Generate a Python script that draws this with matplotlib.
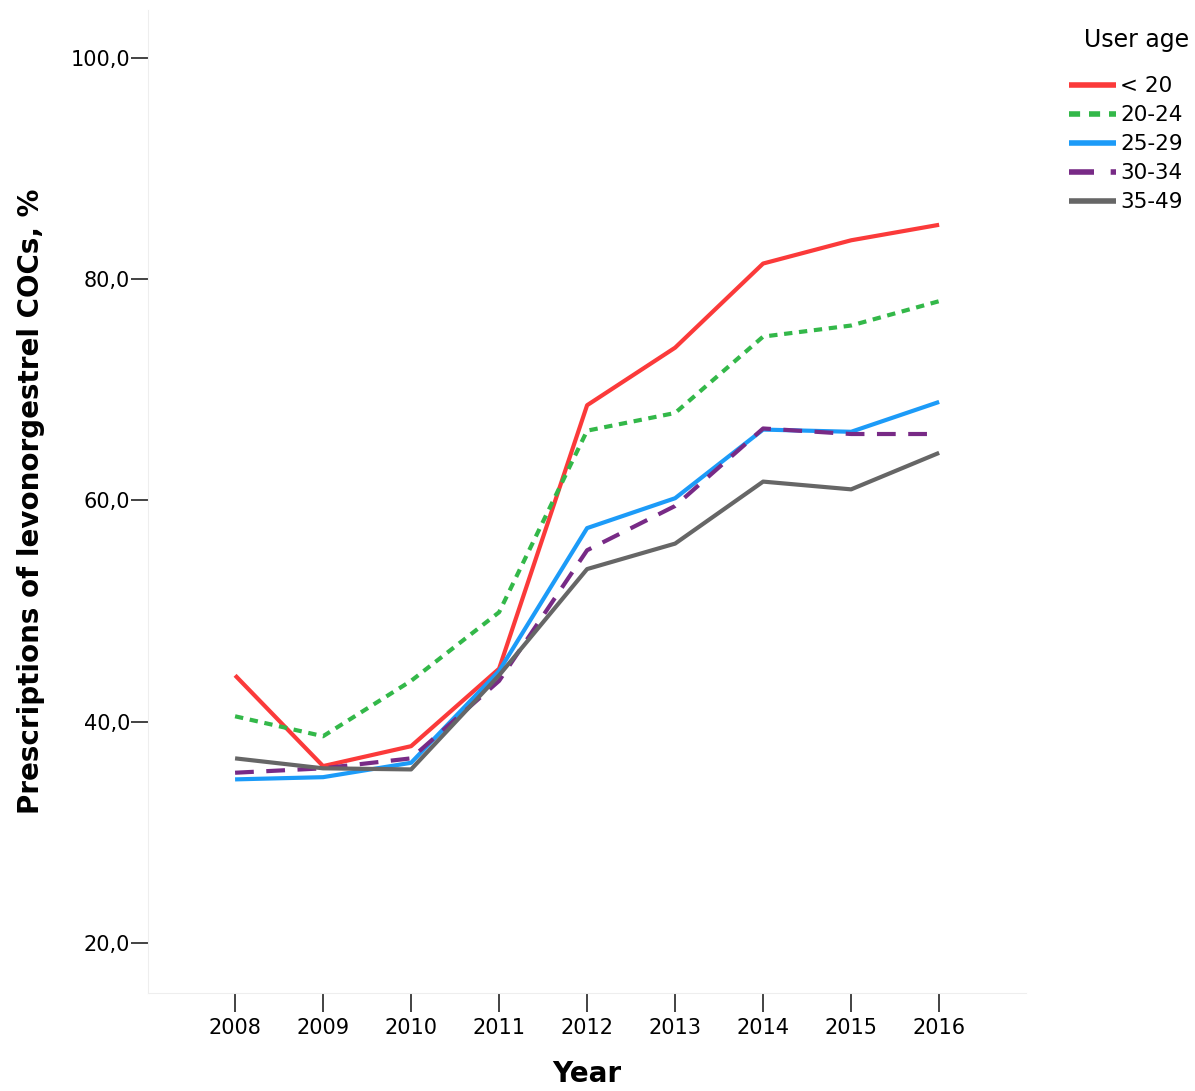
import matplotlib
matplotlib.use("Agg")
import matplotlib.pyplot as plt

years = [2008, 2009, 2010, 2011, 2012, 2013, 2014, 2015, 2016]
age_groups = ['< 20', '20-24', '25-29', '30-34', '35-49']

# prescriptions of levonorgestrel COCs, %
under20 = [44.2, 36.0, 37.8, 44.8, 68.6, 73.8, 81.4, 83.5, 84.9]
age20_24 = [40.5, 38.7, 43.7, 49.9, 66.3, 67.9, 74.8, 75.8, 78.0]
age25_29 = [34.8, 35.0, 36.3, 44.6, 57.5, 60.2, 66.4, 66.2, 68.9]
age30_34 = [35.4, 35.8, 36.7, 43.7, 55.5, 59.5, 66.5, 66.0, 66.0]
age35_49 = [36.7, 35.8, 35.7, 44.2, 53.8, 56.1, 61.7, 61.0, 64.3]

yticks = [20, 40, 60, 80, 100]

plt.rcParams['font.family'] = ['DejaVu Sans']

fig = plt.figure(figsize=(11.95, 10.91), dpi=100)
ax = fig.add_axes([0.1238, 0.0898, 0.735, 0.901])

series = [under20, age20_24, age25_29, age30_34, age35_49]
colors = ['#fb3a3a', '#33b849', '#1c9bf8', '#782a86', '#666666']
dashes = [None, (2, 1.6), None, (4.5, 3), None]

for vals, lab, col, d in zip(series, age_groups, colors, dashes):
    if d is None:
        ax.plot(years, vals, color=col, lw=3, label=lab, solid_capstyle='butt')
    else:
        ax.plot(years, vals, color=col, lw=3, label=lab, dashes=d)

ax.set_xlim(2007.01, 2016.99)
ax.set_ylim(15.5, 104.3)
ax.set_xticks(years)
ax.set_xticklabels([str(y) for y in years], fontsize=15)
ax.set_yticks(yticks)
ax.set_yticklabels([f'{v},0' for v in yticks], fontsize=15)
ax.tick_params(axis='x', direction='out', length=14, width=1.2, pad=4, color='#222222')
ax.tick_params(axis='y', direction='out', length=12, width=1.2, pad=1, color='#222222')

for s in ['top', 'right']:
    ax.spines[s].set_visible(False)
for s in ['left', 'bottom']:
    ax.spines[s].set_color('#eeeeee')

ax.set_ylabel('Prescriptions of levonorgestrel COCs, %', fontsize=20, fontweight='bold',
              labelpad=18)
ax.set_xlabel('Year', fontsize=20, fontweight='bold', labelpad=16)

# legend title sits apart from the entries
fig.text(0.995, 0.963, 'User age', ha='right', va='center', fontsize=17)
leg = fig.legend(loc='upper right', bbox_to_anchor=(0.997, 0.938), frameon=False,
                 fontsize=15.5, handlelength=2.2, handletextpad=0.2,
                 labelspacing=0.42, borderaxespad=0)
for h in leg.get_lines():
    h.set_linewidth(4)

fig.savefig('out.png', dpi=100)
